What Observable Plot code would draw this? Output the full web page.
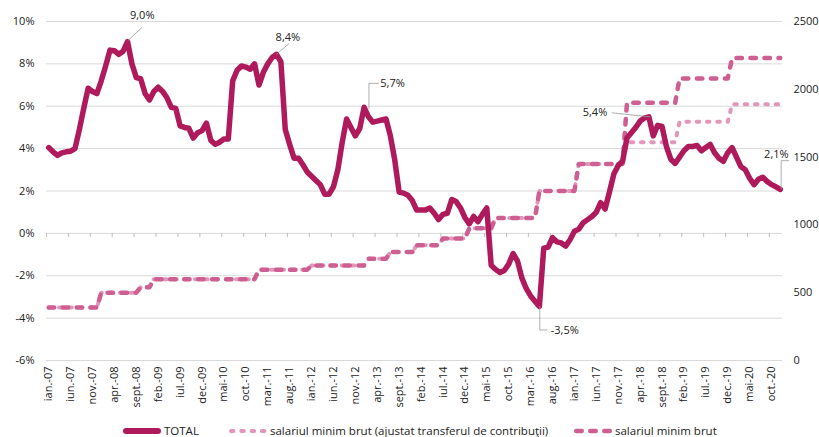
<!DOCTYPE html>
<html><head><meta charset="utf-8">
<script src="https://cdn.jsdelivr.net/npm/d3@7"></script>
<script src="https://cdn.jsdelivr.net/npm/@observablehq/plot@0.6"></script>
<style>
body{margin:0;background:#fff;font-family:"Open Sans",sans-serif;color:#222;overflow:hidden;}
#chart svg{display:block;}
#legend{position:relative;height:12px;margin-top:5px;font-size:11.5px;line-height:12px;white-space:nowrap;}
#legend .it{position:absolute;top:0;display:flex;align-items:center;height:12px;}
#legend svg{display:block;margin-right:2px;}
</style></head><body>
<div id="chart"></div>
<div id="legend"></div>
<script>
// x tick labels, every 5 months from ian.-07
const tickLabels = ["ian.-07","iun.-07","nov.-07","apr.-08","sept.-08","feb.-09","iul.-09","dec.-09","mai-10","oct.-10","mar.-11","aug.-11","ian.-12","iun.-12","nov.-12","apr.-13","sept.-13","feb.-14","iul.-14","dec.-14","mai-15","oct.-15","mar.-16","aug.-16","ian.-17","iun.-17","nov.-17","apr.-18","sept.-18","feb.-19","iul.-19","dec.-19","mai-20","oct.-20"];
const yTicks = [-6,-4,-2,0,2,4,6,8,10];
const rightTicks = [0,500,1000,1500,2000,2500];

// TOTAL (% y/y), monthly Jan 2007 - Dec 2020
const total = [
 4.05,3.85,3.68,3.8,3.85,3.88,4.0,4.9,5.9,6.85,6.7,6.6,
 7.2,7.9,8.65,8.62,8.45,8.6,9.05,8.0,7.35,7.3,6.6,6.3,
 6.7,6.9,6.7,6.4,5.95,5.9,5.07,5.0,4.96,4.5,4.75,4.85,
 5.2,4.4,4.2,4.3,4.45,4.45,7.2,7.7,7.9,7.85,7.75,8.0,
 7.0,7.6,8.0,8.3,8.45,8.1,4.9,4.2,3.55,3.55,3.25,2.9,
 2.7,2.5,2.3,1.85,1.85,2.2,3.0,4.3,5.4,5.0,4.6,4.95,
 5.95,5.5,5.25,5.3,5.35,5.4,4.6,3.45,1.95,1.9,1.8,1.55,
 1.1,1.1,1.1,1.2,0.95,0.65,0.9,0.95,1.6,1.5,1.2,0.75,
 0.45,0.8,0.55,0.9,1.2,-1.5,-1.7,-1.85,-1.75,-1.45,-0.95,-1.3,
 -2.1,-2.6,-2.95,-3.2,-3.45,-0.7,-0.65,-0.2,-0.4,-0.45,-0.6,-0.3,
 0.1,0.2,0.5,0.65,0.8,1.0,1.45,1.15,1.95,2.8,3.2,3.4,
 4.5,4.75,5.0,5.3,5.45,5.5,4.6,5.1,5.05,4.1,3.5,3.3,
 3.6,3.9,4.1,4.1,4.15,3.9,4.05,4.2,3.8,3.55,3.4,3.8,
 4.05,3.6,3.15,3.0,2.6,2.3,2.55,2.65,2.45,2.3,2.2,2.08
];

// minimum gross wage (lei): effective month and level
const wageMonths = ["2007-01","2008-01","2008-10","2009-01","2011-01","2012-01","2013-02","2013-07","2014-01","2014-07","2015-01","2015-07","2016-05","2017-02","2018-01","2019-01","2020-01"];
const wageValues = [390,500,540,600,670,700,750,800,850,900,975,1050,1250,1450,1900,2080,2230];
const wageAdjValues = [390,500,540,600,670,700,750,800,850,900,975,1050,1250,1450,1610,1760,1890];

// annotations (data units: month index, %)
const annotations = [
 {label:"9,0%", x:21.35, y:10.3, anchor:"middle", path:[[18.1,9.1],[21.2,9.7]]},
 {label:"8,4%", x:54.6, y:9.25, anchor:"middle", path:[[52,8.45],[54.8,8.95]]},
 {label:"5,7%", x:75.7, y:7.08, anchor:"start", path:[[73.1,5.9],[73.1,7.08],[75.3,7.08]]},
 {label:"5,4%", x:127.5, y:5.69, anchor:"end", path:[[128.6,5.69],[137.2,5.5]]},
 {label:"2,1%", x:168.9, y:3.74, anchor:"end", path:[[167.2,2.1],[167.2,3.43],[168.9,3.43]]},
 {label:"-3,5%", x:114.6, y:-4.6, anchor:"start", path:[[112.1,-3.45],[112.1,-4.56],[113.8,-4.56]]}
];

const N = total.length;
const mIdx = s => { const [y,m] = s.split("-").map(Number); return (y-2007)*12 + (m-1); };
function stepSeries(values){
  const starts = wageMonths.map(mIdx);
  return d3.range(N).map(i => { let v = values[0]; starts.forEach((s,k)=>{ if (s<=i) v = values[k]; }); return v; });
}
const toPct = w => -6 + w * 16 / 2500;
const totalData = total.map((v,i)=>({i, v}));
const wageData = stepSeries(wageValues).map((w,i)=>({i, v: toPct(w)}));
const wageAdjData = stepSeries(wageAdjValues).map((w,i)=>({i, v: toPct(w)}));
const leaderData = annotations.flatMap((a,k)=>a.path.map(([x,y])=>({x,y,k})));
const tickBounds = d3.range(0, N, 5).map(i => i - 0.5);

const C_TOTAL = "#AE1A5B", C_ADJ = "#E296BA", C_WAGE = "#CD5F92";
const annText = anchor => Plot.text(annotations.filter(a => a.anchor === anchor), {x: "x", y: "y", text: "label", textAnchor: anchor, fill: "#222", fontSize: 11});

const chart = Plot.plot({
  width: 819, height: 420,
  marginLeft: 46, marginRight: 37, marginTop: 21, marginBottom: 60,
  style: {fontFamily: "'Open Sans', sans-serif", fontSize: "11px", color: "#222", background: "#fff", overflow: "visible"},
  x: {domain: [-0.5, N - 0.5], ticks: d3.range(0, N, 5), tickFormat: d => tickLabels[d/5], tickRotate: -90, tickSize: 0, tickPadding: 6, label: null},
  y: {domain: [-6, 10], ticks: yTicks, tickFormat: d => d + "%", tickSize: 0, tickPadding: 12, label: null},
  marks: [
    Plot.ruleY(yTicks, {stroke: "#d9d9d9", strokeWidth: 1}),
    Plot.ruleX(tickBounds, {y1: 0, y2: -0.2, stroke: "#bfbfbf", strokeWidth: 1}),
    Plot.line(wageAdjData, {x: "i", y: "v", stroke: C_ADJ, strokeWidth: 4, strokeDasharray: "2.5,7.8", strokeLinecap: "round"}),
    Plot.line(wageData, {x: "i", y: "v", stroke: C_WAGE, strokeWidth: 4.5, strokeDasharray: "5.5,8.5", strokeLinecap: "round"}),
    Plot.line(totalData, {x: "i", y: "v", stroke: C_TOTAL, strokeWidth: 5.5, strokeLinejoin: "round", strokeLinecap: "round"}),
    Plot.line(leaderData, {x: "x", y: "y", z: "k", stroke: "#9a9a9a", strokeWidth: 0.8}),
    annText("middle"), annText("start"), annText("end"),
    Plot.text(rightTicks, {x: N - 0.5, y: d => toPct(d), text: d => String(d), dx: 11, textAnchor: "start", fill: "#222", fontSize: 11})
  ]
});
document.getElementById("chart").appendChild(chart);

// legend
const legendItems = [
  {label: "TOTAL", left: 122, w: 40, color: C_TOTAL, sw: 6, dash: null},
  {label: "salariul minim brut (ajustat transferul de contribuţii)", left: 228, w: 40, color: C_ADJ, sw: 4, dash: "2.5,7.8"},
  {label: "salariul minim brut", left: 573, w: 40, color: C_WAGE, sw: 4.5, dash: "5.5,8.5"}
];
const lg = d3.select("#legend");
legendItems.forEach(it => {
  const d = lg.append("div").attr("class","it").style("left", it.left + "px");
  const s = d.append("svg").attr("width", it.w).attr("height", 10);
  s.append("line").attr("x1", it.sw/2 + 1).attr("x2", it.w - it.sw/2 - 1).attr("y1", 5).attr("y2", 5)
   .attr("stroke", it.color).attr("stroke-width", it.sw).attr("stroke-linecap", "round")
   .attr("stroke-dasharray", it.dash);
  d.append("span").text(it.label);
});
</script>
</body></html>
